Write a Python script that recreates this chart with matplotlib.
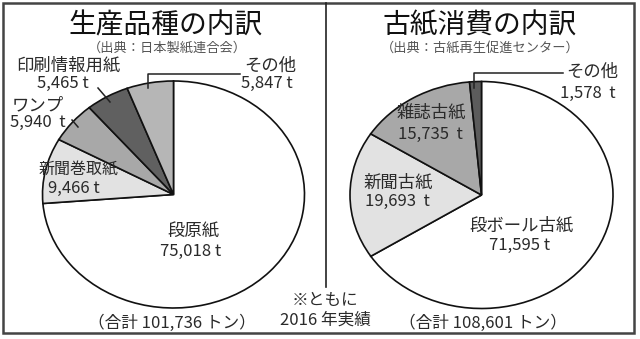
import matplotlib
matplotlib.use("Agg")
import matplotlib.pyplot as plt
from matplotlib.patches import Rectangle
from matplotlib.lines import Line2D

plt.rcParams['font.family'] = ['Noto Sans CJK JP', 'DejaVu Sans']

# 生産品種の内訳（日本製紙連合会）
prod_labels = ['段原紙', '新聞巻取紙', 'ワンプ', '印刷情報用紙', 'その他']
prod_values = [75018, 9466, 5940, 5465, 5847]
prod_colors = ['#ffffff', '#e2e2e2', '#a8a8a8', '#606060', '#b6b6b6']
prod_total = 101736

# 古紙消費の内訳（古紙再生促進センター）
use_labels = ['段ボール古紙', '新聞古紙', '雑誌古紙', 'その他']
use_values = [71595, 19693, 15735, 1578]
use_colors = ['#ffffff', '#e2e2e2', '#a8a8a8', '#5c5c5c']
use_total = 108601

W, H = 640, 339
fig = plt.figure(figsize=(W / 100, H / 100), dpi=100)
fig.patch.set_facecolor('white')


def fx(x):
    return x / W


def fy(y):
    return 1 - y / H


def put(x, y, s, size=12, color='#2a2a2a', ha='center', **kw):
    fig.text(fx(x), fy(y), s, fontsize=size, color=color, ha=ha, va='center', **kw)


def line(xs, ys, lw=1.1, color='#222222'):
    fig.add_artist(Line2D([fx(v) for v in xs], [fy(v) for v in ys], lw=lw, color=color))


def draw_pie(cx, cy, rx, ry, values, colors):
    ax = fig.add_axes([fx(cx - rx), fy(cy + ry), 2 * rx / W, 2 * ry / H])
    wedges, _ = ax.pie(values, colors=colors, startangle=90, counterclock=False,
                       wedgeprops=dict(edgecolor='#111111', linewidth=1.2))
    for w in wedges:
        w.set_clip_on(False)
    ax.set_aspect('auto')
    ax.set_xlim(-1, 1)
    ax.set_ylim(-1, 1)
    ax.axis('off')
    return ax


def fmt(v, gap=' '):
    return f"{v:,}{gap}t"


# outer frame and divider
fig.add_artist(Rectangle((fx(3), fy(333)), fx(631), 330 / H, fill=False,
                         edgecolor='#444444', linewidth=1.8))
line([326, 326], [3, 287], lw=1.2)

# ---- left panel ----
draw_pie(173.5, 194.5, 131, 113.5, prod_values, prod_colors)
put(166, 25, '生産品種の内訳', size=20, color='#111111')
put(167, 48, '（出典：日本製紙連合会）', size=9.5, color='#555555')

put(68, 66, prod_labels[3], size=12.5)
put(63, 83, fmt(prod_values[3]), size=12)
line([98, 110], [88, 102])

put(38, 105, prod_labels[2], size=12.5)
put(38, 122, fmt(prod_values[2], '  '), size=12)
line([72, 78], [120, 127])

put(270, 66, prod_labels[4], size=12.5)
put(267, 83, fmt(prod_values[4]), size=12)
line([148, 148, 240], [88, 74, 74])

put(79, 170, prod_labels[1], size=11.5)
put(74, 188, fmt(prod_values[1]), size=12)

put(193, 232, prod_labels[0], size=12.5)
put(191, 251, fmt(prod_values[0]), size=12)

put(172, 323, f'（合計 {prod_total:,} トン）', size=12)

# ---- right panel ----
draw_pie(481.5, 195, 131.5, 113.5, use_values, use_colors)
put(480, 25, '古紙消費の内訳', size=20, color='#111111')
put(480, 48, '（出典：古紙再生促進センター）', size=9.5, color='#555555')

put(592, 72, use_labels[3], size=12.5)
put(588, 93, fmt(use_values[3], '  '), size=12)
line([474, 474, 563], [88, 73, 73])

put(431, 113, use_labels[2], size=12.5)
put(430, 134, fmt(use_values[2], '  '), size=12)

put(398, 183, use_labels[1], size=12.5)
put(397, 201, fmt(use_values[1], '  '), size=12)

put(522, 226, use_labels[0], size=12.5)
put(520, 245, fmt(use_values[0]), size=12)

put(483, 323, f'（合計 {use_total:,} トン）', size=12)

# shared note
put(325, 300, '※ともに', size=12)
put(325, 320, '2016 年実績', size=12)

fig.savefig('out.png', dpi=100, facecolor='white')
